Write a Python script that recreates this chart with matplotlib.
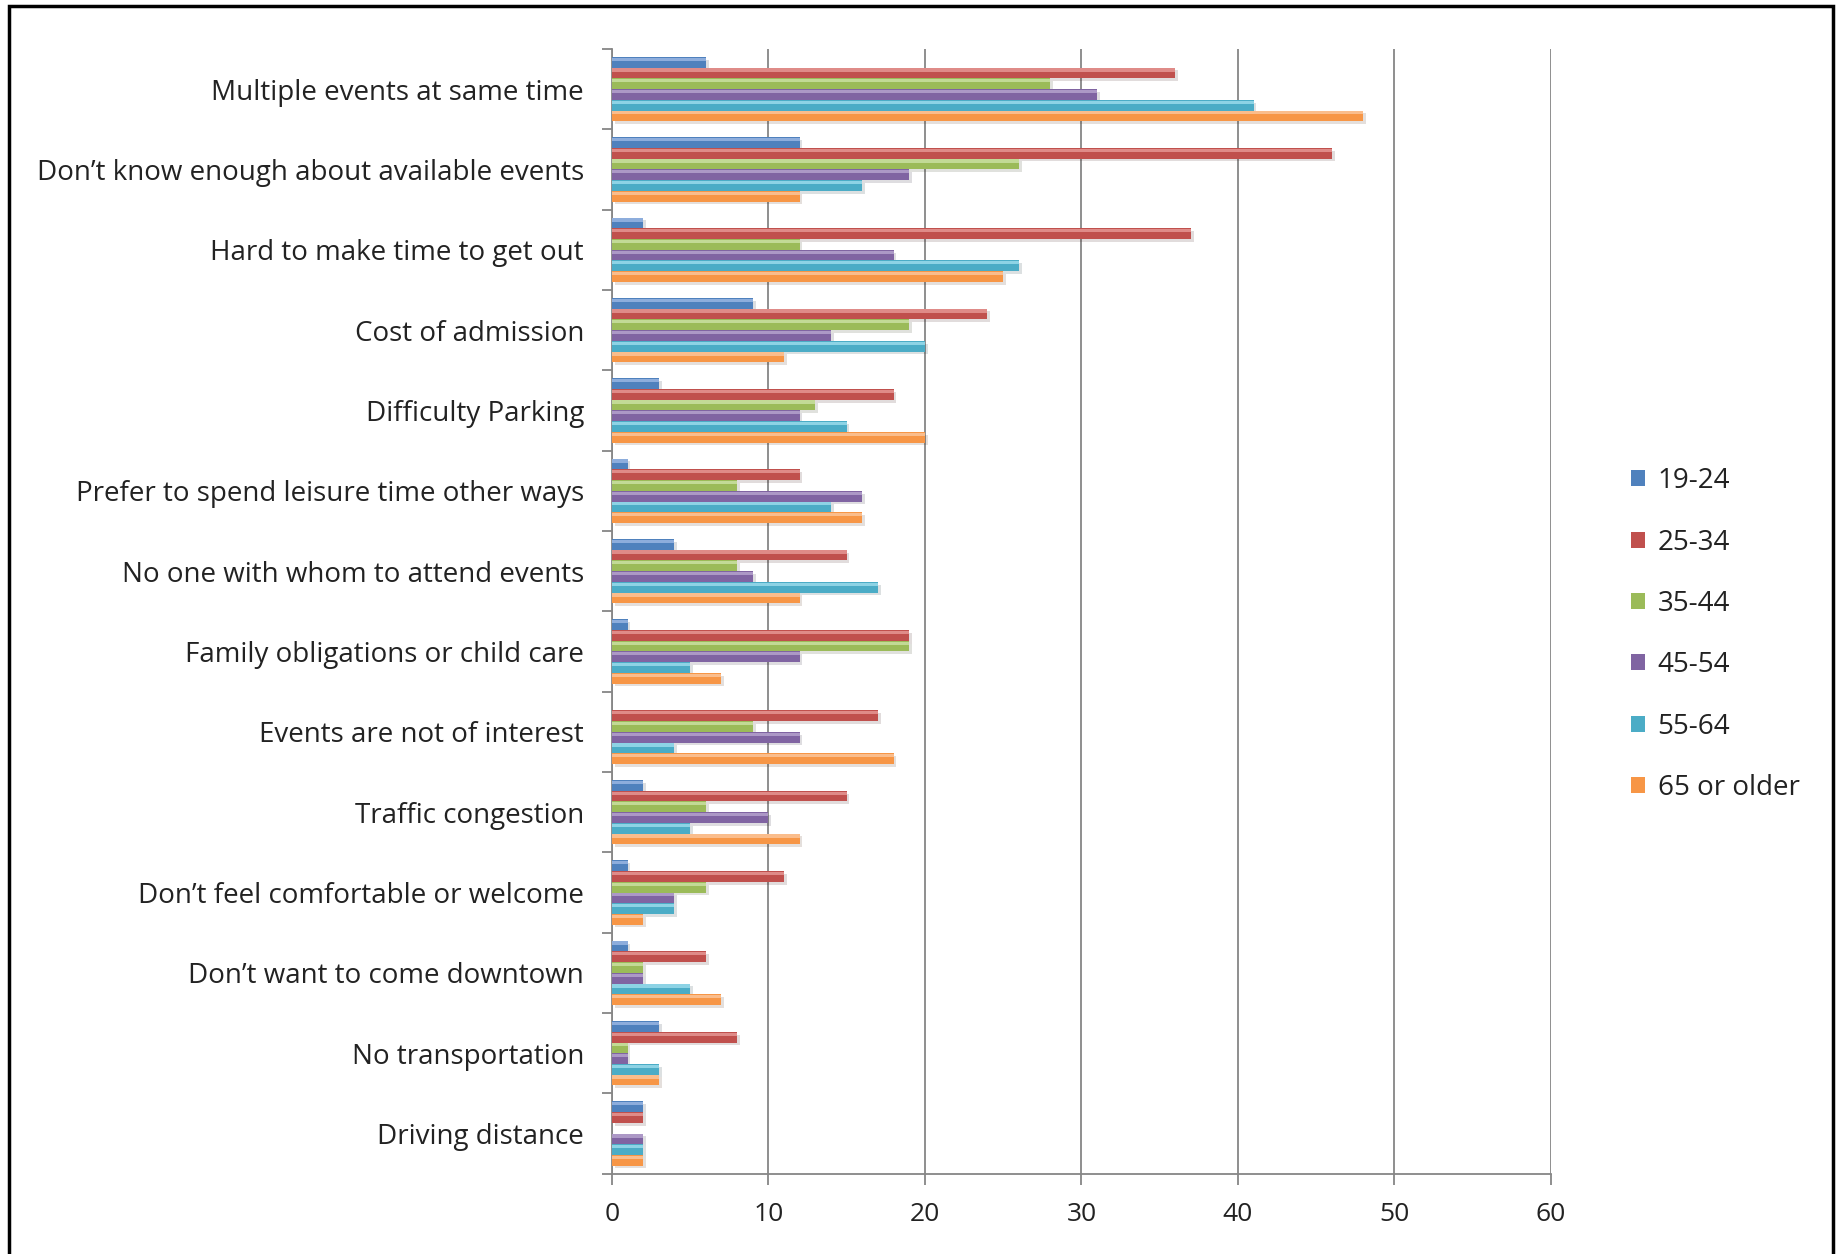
"""Barriers to attending downtown events, by age group."""

import matplotlib

matplotlib.use("Agg")
import matplotlib.pyplot as plt
import matplotlib.patheffects as pe
from matplotlib.patches import Patch, Rectangle

categories = [
    "Multiple events at same time",
    "Don\u2019t know enough about available events",
    "Hard to make time to get out",
    "Cost of admission",
    "Difficulty Parking",
    "Prefer to spend leisure time other ways",
    "No one with whom to attend events",
    "Family obligations or child care",
    "Events are not of interest",
    "Traffic congestion",
    "Don\u2019t feel comfortable or welcome",
    "Don\u2019t want to come downtown",
    "No transportation",
    "Driving distance",
]
series_names = ["19-24", "25-34", "35-44", "45-54", "55-64", "65 or older"]

age_19_24 = [6, 12, 2, 9, 3, 1, 4, 1, 0, 2, 1, 1, 3, 2]
age_25_34 = [36, 46, 37, 24, 18, 12, 15, 19, 17, 15, 11, 6, 8, 2]
age_35_44 = [28, 26, 12, 19, 13, 8, 8, 19, 9, 6, 6, 2, 1, 0]
age_45_54 = [31, 19, 18, 14, 12, 16, 9, 12, 12, 10, 4, 2, 1, 2]
age_55_64 = [41, 16, 26, 20, 15, 14, 17, 5, 4, 5, 4, 5, 3, 2]
age_65_up = [48, 12, 25, 11, 20, 16, 12, 7, 18, 12, 2, 7, 3, 2]

series = [age_19_24, age_25_34, age_35_44, age_45_54, age_55_64, age_65_up]
colors = ["#4F81BD", "#C0504D", "#9BBB59", "#8064A2", "#4BACC6", "#F79646"]
highlights = ["#9DB9E4", "#E79A98", "#CDE3A6", "#B8A6D0", "#9FDDEE", "#FBC79E"]

plt.rcParams["font.family"] = ["Open Sans", "DejaVu Sans"]

fig = plt.figure(figsize=(18.43, 12.54), dpi=100)
ax = fig.add_axes([0.332, 0.064, 0.5095, 0.897])

n = len(series)
h = 0.8 / n
for j, (vals, col, hi) in enumerate(zip(series, colors, highlights)):
    ys = [i - 0.4 + h * (j + 0.5) for i in range(len(categories))]
    ax.barh(
        ys, vals, height=h, color=col, linewidth=0, zorder=3,
        path_effects=[pe.SimplePatchShadow(offset=(2, -2), alpha=0.15), pe.Normal()],
    )
    # lighter top strip to mimic the Excel bevel
    ax.barh([y - h * 0.28 for y in ys], vals, height=h * 0.3, color=hi,
            linewidth=0, alpha=0.8, zorder=4)

ax.set_xlim(0, 60)
ax.set_ylim(len(categories) - 0.5, -0.5)
ax.set_xticks(range(0, 61, 10))
ax.set_yticks(range(len(categories)))
ax.set_yticklabels(categories)
ax.set_yticks([i - 0.5 for i in range(len(categories) + 1)], minor=True)
ax.tick_params(axis="y", which="major", length=0, pad=20, labelsize=20, labelcolor="#222222")
ax.tick_params(axis="y", which="minor", length=7, width=1.3, color="#868686")
ax.tick_params(axis="x", length=8, width=1.3, color="#868686", pad=12,
               labelsize=19, labelcolor="#222222")

ax.grid(axis="x", color="#868686", linewidth=1.3, zorder=0)
ax.set_axisbelow(True)
for side in ["top", "right"]:
    ax.spines[side].set_visible(False)
for side in ["left", "bottom"]:
    ax.spines[side].set_color("#868686")
    ax.spines[side].set_linewidth(1.3)

handles = [Patch(facecolor=c, edgecolor="none") for c in colors]
fig.legend(
    handles, series_names, loc="center left", bbox_to_anchor=(0.8715, 0.494),
    frameon=False, fontsize=20, handlelength=0.5, handleheight=0.5,
    handletextpad=0.45, labelspacing=1.2, labelcolor="#222222",
)

fig.patches.append(Rectangle((0.005, -0.02), 0.9895, 1.015, transform=fig.transFigure,
                             fill=False, edgecolor="black", linewidth=2.5))

fig.savefig("out.png", dpi=100)
plt.close(fig)
